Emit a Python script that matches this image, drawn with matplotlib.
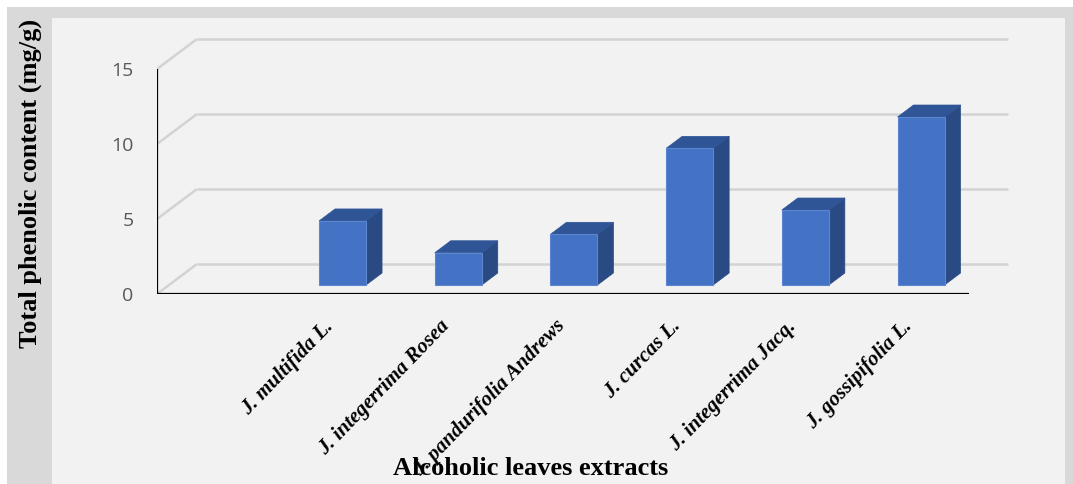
import matplotlib
matplotlib.use("Agg")
import matplotlib.pyplot as plt
import matplotlib.transforms as mtransforms
from matplotlib.patches import Rectangle, Polygon

# Data
categories = ["", "J. multifida L.", "J. integerrima Rosea", "J. pandurifolia Andrews",
              "J. curcas L.", "J. integerrima Jacq.", "J. gossipifolia L."]
values = [None, 4.27, 2.15, 3.38, 9.11, 5.0, 11.2]
y_ticks = [0, 5, 10, 15]
y_label = "Total phenolic content (mg/g)"
x_label = "Alcoholic leaves extracts"

# Colours
FRONT = "#4472C4"
TOP = "#2F5597"
SIDE = "#2A4A83"
EDGE = "#5E86D0"
GRID = "#D3D3D3"

W, H, DPI = 1073, 484, 100
fig = plt.figure(figsize=(W / DPI, H / DPI), dpi=DPI)
fig.patch.set_facecolor("white")

# Chart frame: grey border strip and light panel
fig.patches.append(Rectangle((7 / W, 0), 1 - 7 / W, (H - 7) / H,
                             transform=fig.transFigure, facecolor="#D9D9D9",
                             edgecolor="none", zorder=-2))
fig.patches.append(Rectangle((52 / W, 0), (1065 - 52) / W, (H - 18) / H,
                             transform=fig.transFigure, facecolor="#F2F2F2",
                             edgecolor="none", zorder=-1))

# Axes geometry (front plane): 7 category slots, 15 px per unit
slot_px = 115.7
unit_px = 15.0
x0, x1 = -0.5, 7.0
y0, y1 = 0.0, 17.5
left_px, bottom_px = 157, 294
ax = fig.add_axes([left_px / W, (H - bottom_px) / H,
                   (x1 - x0) * slot_px / W, (y1 - y0) * unit_px / H])
ax.set_xlim(x0, x1)
ax.set_ylim(y0, y1)
ax.set_facecolor("none")
for s in ax.spines.values():
    s.set_visible(False)

# Depth of the oblique projection, in data units
back_dx = 40 / slot_px
back_dy = 30 / unit_px
grid_end = -0.5 + (1008 - left_px) / slot_px

# Back wall gridlines and side-wall diagonals
for yv in y_ticks:
    ax.plot([x0 + back_dx, grid_end], [yv + back_dy, yv + back_dy],
            color=GRID, lw=1.8, zorder=1, solid_capstyle="butt")
    ax.plot([x0, x0 + back_dx], [yv, yv + back_dy],
            color=GRID, lw=1.8, zorder=1, solid_capstyle="butt")

# Bars sit between 30% and 70% of the floor depth
f_dx, f_dy = 0.3 * back_dx, 0.3 * back_dy
d_dx, d_dy = 0.4 * back_dx, 0.4 * back_dy
bar_w = 47 / slot_px

xs = [i for i, v in enumerate(values) if v is not None]
vs = [v for v in values if v is not None]
ax.bar([x + f_dx for x in xs], vs, width=bar_w, bottom=f_dy,
       color=FRONT, edgecolor=EDGE, linewidth=0.8, zorder=4)
for x, v in zip(xs, vs):
    xl = x + f_dx - bar_w / 2
    xr = x + f_dx + bar_w / 2
    b = f_dy
    t = f_dy + v
    side = Polygon([(xr, b), (xr + d_dx, b + d_dy), (xr + d_dx, t + d_dy), (xr, t)],
                   closed=True, facecolor=SIDE, edgecolor=SIDE, lw=0.5, zorder=3)
    top = Polygon([(xl, t), (xl + d_dx, t + d_dy), (xr + d_dx, t + d_dy), (xr, t)],
                  closed=True, facecolor=TOP, edgecolor=TOP, lw=0.5, zorder=3)
    ax.add_patch(side)
    ax.add_patch(top)

# Front axis lines
ax.plot([x0, x0], [0, 15], color="black", lw=1.6, zorder=5, solid_capstyle="butt")
ax.plot([x0, 6.52], [0, 0], color="black", lw=1.6, zorder=5, solid_capstyle="butt")

# Y ticks
ax.set_yticks(y_ticks)
ax.set_yticklabels([str(t) for t in y_ticks])
ax.tick_params(axis="y", length=0, pad=17, labelcolor="#595959")
for lab in ax.get_yticklabels():
    lab.set_fontfamily("Open Sans")
    lab.set_fontsize(14)

# Category labels
ax.set_xticks(range(len(categories)))
ax.set_xticklabels(categories)
ax.tick_params(axis="x", length=0, pad=16)
shift = mtransforms.ScaledTranslation(-7 / DPI, 0, fig.dpi_scale_trans)
for lab in ax.get_xticklabels():
    lab.set_fontfamily("Liberation Serif")
    lab.set_fontweight("bold")
    lab.set_fontstyle("italic")
    lab.set_fontsize(15)
    lab.set_rotation(46)
    lab.set_ha("right")
    lab.set_va("top")
    lab.set_rotation_mode("anchor")
    lab.set_transform(lab.get_transform() + shift)

# Axis titles
fig.text(531 / W, (H - 475) / H, x_label, ha="center", va="baseline",
         fontfamily="Liberation Serif", fontweight="bold", fontsize=19)
fig.text(30 / W, (H - 183) / H, y_label, ha="center", va="center", rotation=90,
         fontfamily="Liberation Serif", fontweight="bold", fontsize=19)

fig.savefig("out.png", dpi=DPI, facecolor=fig.get_facecolor())
